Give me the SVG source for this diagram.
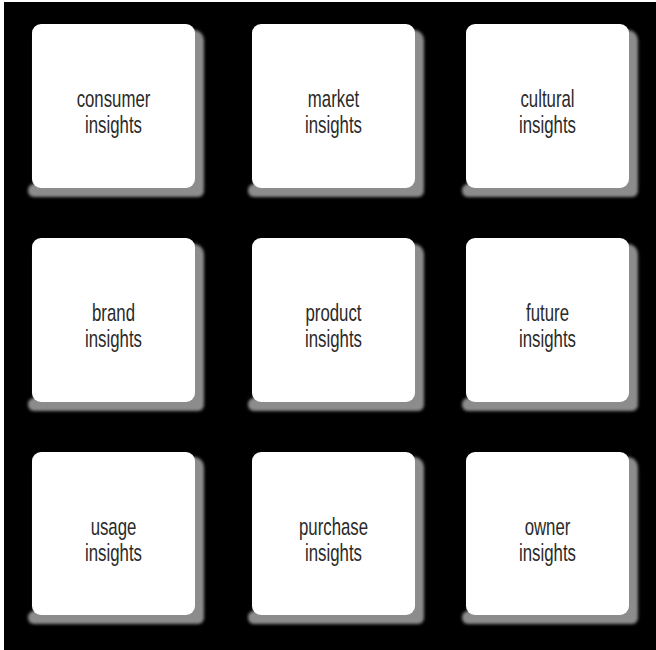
<svg xmlns="http://www.w3.org/2000/svg" width="656" height="650" viewBox="0 0 656 650">
<defs>
<filter id="blur" x="-10%" y="-10%" width="120%" height="120%"><feGaussianBlur stdDeviation="1.5"/></filter>
<linearGradient id="sh" x1="0" y1="0" x2="0" y2="1">
<stop offset="0" stop-color="#5a5a5a"/>
<stop offset="0.9" stop-color="#9a9a9a"/>
<stop offset="1" stop-color="#5a5a5a"/>
</linearGradient>
<g id="shadowShape">
<rect x="34" y="30" width="170" height="167" rx="10"/>
<rect x="28" y="184" width="176" height="13" rx="6"/>
</g>
</defs>
<style>
.bg{fill:#000}
.shadow{fill:#8c8c8c;filter:url(#blur)}
.box{fill:#fff}
.lbl{font-family:"Liberation Sans","Arial",sans-serif;font-size:24px;fill:#2a2a2a;text-anchor:middle}
</style>
<rect x="0" y="0" width="656" height="650" fill="#fff"/>
<rect class="bg" x="4" y="2" width="652" height="648"/>
<g id="connectors"/>
<g id="node-consumer">
<use href="#shadowShape" class="shadow"/>
<rect class="box" x="32" y="24" width="163" height="164" rx="9"/>
<text class="lbl" transform="translate(113.5,0) scale(0.7,1)"><tspan x="0" y="107">consumer</tspan><tspan x="0" y="133">insights</tspan></text>
</g>
<g id="node-market">
<use href="#shadowShape" class="shadow" transform="translate(220,0)"/>
<rect class="box" x="252" y="24" width="163" height="164" rx="9"/>
<text class="lbl" transform="translate(333.5,0) scale(0.7,1)"><tspan x="0" y="107">market</tspan><tspan x="0" y="133">insights</tspan></text>
</g>
<g id="node-cultural">
<use href="#shadowShape" class="shadow" transform="translate(434,0)"/>
<rect class="box" x="466" y="24" width="163" height="164" rx="9"/>
<text class="lbl" transform="translate(547.5,0) scale(0.7,1)"><tspan x="0" y="107">cultural</tspan><tspan x="0" y="133">insights</tspan></text>
</g>
<g id="node-brand">
<use href="#shadowShape" class="shadow" transform="translate(0,214)"/>
<rect class="box" x="32" y="238" width="163" height="164" rx="9"/>
<text class="lbl" transform="translate(113.5,0) scale(0.7,1)"><tspan x="0" y="321">brand</tspan><tspan x="0" y="347">insights</tspan></text>
</g>
<g id="node-product">
<use href="#shadowShape" class="shadow" transform="translate(220,214)"/>
<rect class="box" x="252" y="238" width="163" height="164" rx="9"/>
<text class="lbl" transform="translate(333.5,0) scale(0.7,1)"><tspan x="0" y="321">product</tspan><tspan x="0" y="347">insights</tspan></text>
</g>
<g id="node-future">
<use href="#shadowShape" class="shadow" transform="translate(434,214)"/>
<rect class="box" x="466" y="238" width="163" height="164" rx="9"/>
<text class="lbl" transform="translate(547.5,0) scale(0.7,1)"><tspan x="0" y="321">future</tspan><tspan x="0" y="347">insights</tspan></text>
</g>
<g id="node-usage">
<use href="#shadowShape" class="shadow" transform="translate(0,427)"/>
<rect class="box" x="32" y="452" width="163" height="163" rx="9"/>
<text class="lbl" transform="translate(113.5,0) scale(0.7,1)"><tspan x="0" y="535">usage</tspan><tspan x="0" y="561">insights</tspan></text>
</g>
<g id="node-purchase">
<use href="#shadowShape" class="shadow" transform="translate(220,427)"/>
<rect class="box" x="252" y="452" width="163" height="163" rx="9"/>
<text class="lbl" transform="translate(333.5,0) scale(0.7,1)"><tspan x="0" y="535">purchase</tspan><tspan x="0" y="561">insights</tspan></text>
</g>
<g id="node-owner">
<use href="#shadowShape" class="shadow" transform="translate(434,427)"/>
<rect class="box" x="466" y="452" width="163" height="163" rx="9"/>
<text class="lbl" transform="translate(547.5,0) scale(0.7,1)"><tspan x="0" y="535">owner</tspan><tspan x="0" y="561">insights</tspan></text>
</g>
</svg>
